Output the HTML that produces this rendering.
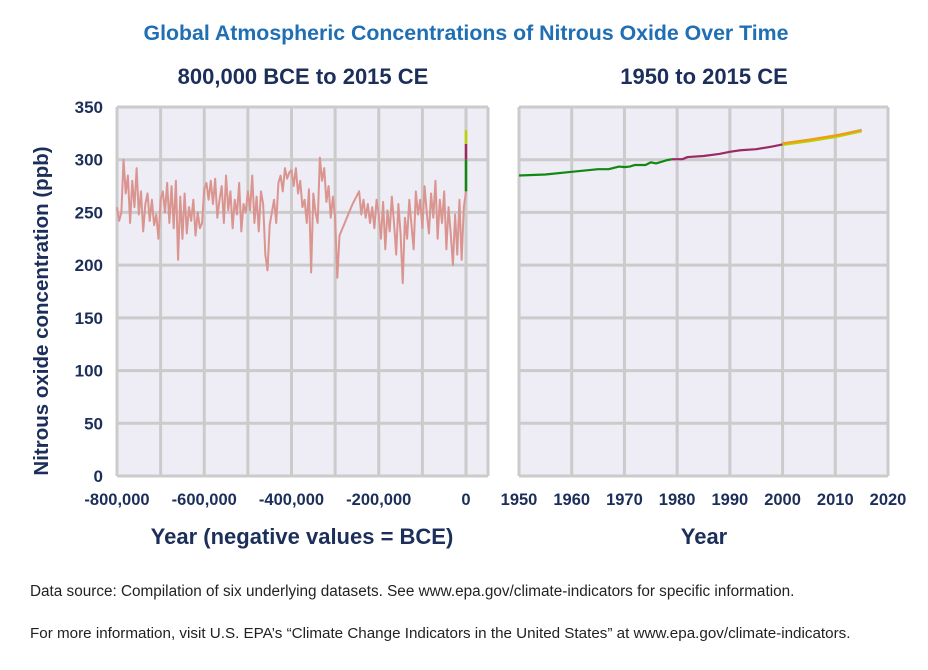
<!DOCTYPE html>
<html><head><meta charset="utf-8"><style>
body{margin:0;background:#fff;width:928px;height:665px;overflow:hidden;font-family:"Liberation Sans",sans-serif}
</style></head><body>
<svg id="chart" width="928" height="665" font-family="Liberation Sans, sans-serif">
<text x="466" y="40" text-anchor="middle" font-size="21.3" font-weight="bold" fill="#1f6fb4">Global Atmospheric Concentrations of Nitrous Oxide Over Time</text>
<text x="303" y="84" text-anchor="middle" font-size="22" font-weight="bold" fill="#1c2f5a">800,000 BCE to 2015 CE</text>
<text x="704" y="84" text-anchor="middle" font-size="22" font-weight="bold" fill="#1c2f5a">1950 to 2015 CE</text>
<text transform="translate(48,311) rotate(-90)" text-anchor="middle" font-size="20.5" font-weight="bold" fill="#1c2f5a">Nitrous oxide concentration (ppb)</text>
<text x="302" y="544" text-anchor="middle" font-size="22" font-weight="bold" fill="#1c2f5a">Year (negative values = BCE)</text>
<text x="704" y="544" text-anchor="middle" font-size="22" font-weight="bold" fill="#1c2f5a">Year</text>
<text x="30" y="596" font-size="15.3" fill="#222">Data source: Compilation of six underlying datasets. See www.epa.gov/climate-indicators for specific information.</text>
<text x="30" y="638" font-size="15.2" fill="#222">For more information, visit U.S. EPA’s “Climate Change Indicators in the United States” at www.epa.gov/climate-indicators.</text>
<g id="left"></g><g id="right"></g>
</svg>
<script>
const yTicks=[0,50,100,150,200,250,300,350];
const leftXTicks=[-800000,-600000,-400000,-200000,0];
const leftXTickLabels=["-800,000","-600,000","-400,000","-200,000","0"];
const leftXGrid=[-700000,-600000,-500000,-400000,-300000,-200000,-100000,0];
const rightXTicks=[1950,1960,1970,1980,1990,2000,2010,2020];
const iceValues=[255,242,250,300,268,285,240,280,255,292,248,270,232,258,268,242,262,238,248,225,
262,270,250,278,240,275,235,280,205,265,225,268,230,255,242,262,228,250,235,240,
272,278,262,280,258,282,245,262,275,240,285,252,270,235,262,248,278,232,258,250,
270,252,285,240,265,232,270,258,210,195,238,250,262,240,278,285,270,292,282,288,
290,275,292,268,280,255,262,240,272,193,268,250,240,302,280,292,260,275,245,265,
245,188,228,233,238,243,248,253,258,262,266,270,248,262,245,258,240,255,235,262,
248,225,260,215,252,232,265,240,210,258,230,183,245,225,262,238,215,270,248,262,
235,275,250,230,268,245,280,225,262,240,270,215,255,230,200,248,210,262,205,255,270];
const iceYears=iceValues.map((v,i)=>-800000+i*5000);
const greenYears=[1950,1955,1960,1965,1967,1969,1970,1971,1972,1974,1975,1976,1978,1979];
const greenValues=[285,286,288.5,291,291,293.5,293,293.5,295,295,297.5,296.5,299.5,300.5];
const purpleYears=[1979,1981,1982,1985,1988,1990,1992,1995,1998,2000];
const purpleValues=[300.5,300.5,302.5,303.5,305.5,307.5,309,310,312.5,314.5];
const recentYears=[2000,2005,2010,2015];
const blueValues=[315,318.5,322.5,328.5];
const orangeValues=[315.5,319,323,328];
const yellowValues=[314,317.5,321.5,327];
const modernLeft=[[270,300,"#118811"],[300,315,"#9c2a62"],[315,328,"#b8d200"]];
const NS="http://www.w3.org/2000/svg";
const yPix=v=>476-v*(369/350);
function mk(p,t,a){const e=document.createElementNS(NS,t);for(const k in a)e.setAttribute(k,a[k]);p.appendChild(e);return e;}
function panel(g,x0,x1,xs,grid,ticks,labels,name){
  const bg=mk(g,'rect',{x:x0,y:107,width:x1-x0,height:369,fill:'#eeecf5'});
  
  yTicks.forEach(v=>{const l=mk(g,'line',{x1:x0,x2:x1,y1:yPix(v),y2:yPix(v),stroke:'#cbcbcb','stroke-width':3});
    });
  grid.forEach(t=>{const l=mk(g,'line',{x1:xs(t),x2:xs(t),y1:107,y2:476,stroke:'#cbcbcb','stroke-width':3});
    });
  ticks.forEach((t,i)=>{
    const tx=mk(g,'text',{x:xs(t),y:505,'text-anchor':'middle','font-size':16.5,'font-weight':'bold',fill:'#1c2f5a'});tx.textContent=labels[i];
    });
  mk(g,'line',{x1:x0,x2:x0,y1:107,y2:476,stroke:'#cbcbcb','stroke-width':3});
  mk(g,'line',{x1:x1,x2:x1,y1:107,y2:476,stroke:'#cbcbcb','stroke-width':3});
}
function line(g,xs,xsArr,ys,col,w,name){
  const p=mk(g,'polyline',{points:xsArr.map((x,i)=>xs(x)+','+yPix(ys[i])).join(' '),fill:'none',stroke:col,'stroke-width':w,'stroke-linejoin':'round'});
  
}
const L=document.getElementById('left'),R=document.getElementById('right');
const xl=y=>466+y*(349/800000);
const xr=y=>519+(y-1950)*(369/70);
panel(L,117,488,xl,leftXGrid,leftXTicks,leftXTickLabels,'left');
panel(R,519,888,xr,rightXTicks,rightXTicks,rightXTicks.map(String),'right');
yTicks.forEach(v=>{const t=mk(L,'text',{x:103,y:yPix(v)+6,'text-anchor':'end','font-size':17,'font-weight':'bold',fill:'#1c2f5a'});t.textContent=v;
  });
line(L,xl,iceYears,iceValues,'#da9590',2,'ice-core-series');
modernLeft.forEach(s=>line(L,xl,[0,0],[s[0],s[1]],s[2],2.5,'modern-series-left'));
line(R,xr,greenYears,greenValues,'#118811',2.2,'green-series');
line(R,xr,purpleYears,purpleValues,'#9c2a62',2.2,'purple-series');
line(R,xr,recentYears,blueValues,'#9fc3e8',2.2,'blue-series');
line(R,xr,recentYears,yellowValues,'#b8d200',2.2,'yellow-series');
line(R,xr,recentYears,orangeValues,'#f29a1a',2.2,'orange-series');
</script>
</body></html>
